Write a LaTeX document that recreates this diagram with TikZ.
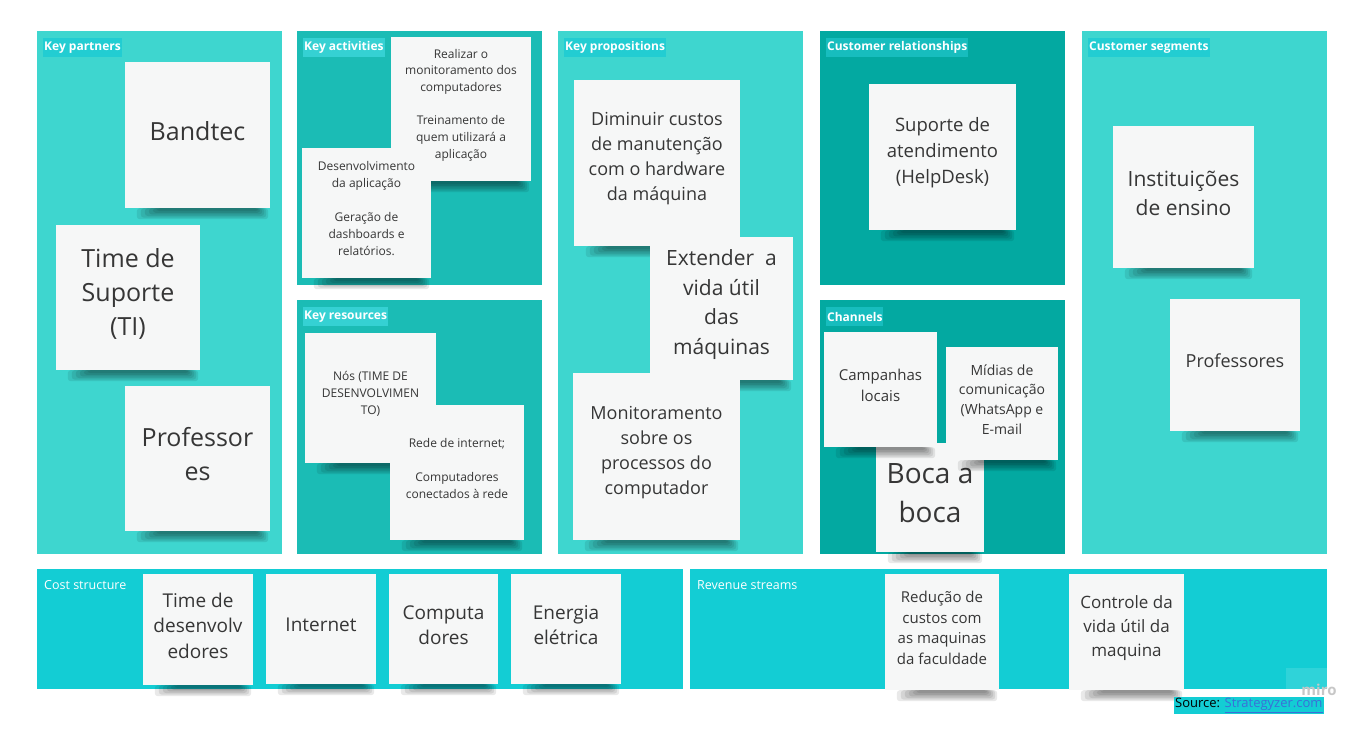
\documentclass[tikz,border=0pt]{standalone}
\usepackage{fontspec}
\setmainfont{Open Sans}
\definecolor{lt}{HTML}{3ED6CF}
\definecolor{dk}{HTML}{1BBCB5}
\definecolor{dd}{HTML}{03A9A1}
\definecolor{cy}{HTML}{13CDD4}
\definecolor{hlA}{HTML}{22CDD2}
\definecolor{hlB}{HTML}{35D1D3}
\definecolor{hlC}{HTML}{17BDBE}
\definecolor{notefill}{HTML}{F6F7F7}
\definecolor{ink}{HTML}{363636}
\definecolor{linkblue}{HTML}{3A6FD8}
\newcommand\fsz[2]{\fontsize{#1}{#2}\selectfont}
\tikzset{
  panel/.style={fill=#1, draw=none, inner sep=0pt, anchor=north west},
  hdr/.style={fill=#1, text=white, anchor=west, inner xsep=1pt, inner ysep=0pt,
    minimum height=19pt, font=\bfseries\fsz{12}{14}},
  hdrplain/.style={text=white, anchor=west, inner xsep=1pt, inner ysep=0pt,
    minimum height=19pt, font=\fsz{12.5}{14}},
  note/.style={fill=notefill, draw=none, inner sep=0pt},
  notetext/.style={inner sep=0pt, align=center, text=ink},
  shadowlayer/.style={fill=black, draw=none, opacity=0.085, rounded corners=3pt},
}
% \snote{name}{cx}{cy}{w}{h}{font size}{line skip}{text}
\newcommand\snote[8]{%
  \node[note, minimum width=#4pt, minimum height=#5pt] (#1) at (#2,#3) {};
  \foreach \i in {0,...,5}{%
    \fill[shadowlayer] ([xshift={(12+4*\i)*1pt}]#1.south west)
      rectangle ([xshift={(-2-2*\i)*1pt}, yshift={(-11+1.6*\i)*1pt}]#1.south east);
  }
  \node[notetext, font=\fsz{#6}{#7}] (#1-t) at ([yshift=4pt]#1.center) {#8};
}
\begin{document}
\begin{tikzpicture}[x=1pt,y=-1pt]
\useasboundingbox[fill=white] (0,0) rectangle (1372,728);

% panels
\node[panel=lt, minimum width=245pt, minimum height=523pt] (kp) at (37,31) {};
\node[panel=dk, minimum width=245pt, minimum height=254pt] (ka) at (297,31) {};
\node[panel=dk, minimum width=245pt, minimum height=254pt] (kr) at (297,300) {};
\node[panel=lt, minimum width=245pt, minimum height=523pt] (vp) at (558,31) {};
\node[panel=dd, minimum width=245pt, minimum height=254pt] (cr) at (820,31) {};
\node[panel=dd, minimum width=245pt, minimum height=254pt] (ch) at (820,300) {};
\node[panel=lt, minimum width=245pt, minimum height=523pt] (cs) at (1082,31) {};
\node[panel=cy, minimum width=646pt, minimum height=120pt] (cost) at (37,569) {};
\node[panel=cy, minimum width=637pt, minimum height=120pt] (rev) at (690,569) {};

% headers
\node[hdr=hlA] (kp-l) at (43,47.5) {Key partners};
\node[hdr=hlB] (ka-l) at (303,47.5) {Key activities};
\node[hdr=hlB] (kr-l) at (303,316.5) {Key resources};
\node[hdr=hlA] (vp-l) at (564,47.5) {Key propositions};
\node[hdr=hlC] (cr-l) at (826,47.5) {Customer relationships};
\node[hdr=hlC] (ch-l) at (826,316.5) {Channels};
\node[hdr=hlA] (cs-l) at (1088,47.5) {Customer segments};
\node[hdrplain] (cost-l) at (43,585.5) {Cost structure};
\node[hdrplain] (rev-l) at (696,585.5) {Revenue streams};

% key partners
\snote{bandtec}{197.5}{135}{145}{146}{25}{34}{Bandtec}
\snote{suporteti}{128}{297.5}{144}{145}{25}{34}{Time de\\Suporte\\(TI)}
\snote{profkp}{197.5}{458.5}{145}{145}{25}{34}{Professor\\es}

% key activities
\snote{realizar}{461}{109}{140}{144}{12}{16.7}{Realizar o\\monitoramento dos\\computadores\\[16.7pt]Treinamento de\\quem utilizará a\\aplicação}
\snote{desenv}{366.5}{213}{129}{130}{12}{17}{Desenvolvimento\\da aplicação\\[17pt]Geração de\\dashboards e\\relatórios.}

% key resources
\snote{nos}{370.5}{398}{131}{130}{12}{17}{Nós (TIME DE\\DESENVOLVIMEN\\TO)}
\snote{rede}{457}{472.5}{134}{135}{12}{17}{Rede de internet;\\[17pt]Computadores\\conectados à rede}

% key propositions
\snote{diminuir}{657}{163}{166}{166}{18}{25}{Diminuir custos\\de manutenção\\com o hardware\\da máquina}
\snote{extender}{721.5}{308.5}{143}{143}{21}{29.5}{Extender\ \ a\\vida útil\\das\\máquinas}
\snote{monitor}{656.5}{456.5}{167}{167}{18}{25}{Monitoramento\\sobre os\\processos do\\computador}

% customer relationships
\snote{helpdesk}{942.5}{157}{147}{146}{18.5}{26}{Suporte de\\atendimento\\(HelpDesk)}

% channels
\snote{boca}{930}{497.5}{108}{109}{28}{39}{Boca a\\boca}
\snote{campanhas}{880.5}{389.5}{113}{115}{15}{21}{Campanhas\\locais}
\snote{midias}{1002}{403.5}{112}{113}{14}{19.7}{Mídias de\\comunicação\\(WhatsApp e\\E-mail}

% customer segments
\snote{instit}{1183.5}{197}{141}{142}{21}{29}{Instituições\\de ensino}
\snote{profcs}{1235}{365}{130}{132}{18}{25}{Professores}

% cost structure
\snote{timedev}{198}{629.5}{110}{111}{19}{25.5}{Time de\\desenvolv\\edores}
\snote{internet}{321}{629}{110}{110}{19}{25.5}{Internet}
\snote{computadores}{443.5}{629}{109}{110}{19}{25}{Computa\\dores}
\snote{energia}{566}{629}{110}{110}{19}{25}{Energia\\elétrica}

% revenue streams
\snote{reducao}{942}{632}{114}{116}{15}{20.7}{Redução de\\custos com\\as maquinas\\da faculdade}
\snote{controle}{1126.5}{632}{115}{116}{17}{24}{Controle da\\vida útil da\\maquina}

% watermark and source
\node[fill=white, fill opacity=0.12, minimum width=41pt, minimum height=22pt, inner sep=0pt, anchor=north west] (wm-box) at (1286,668) {};
\node[text=black!22, font=\bfseries\fsz{15}{17}, inner sep=0pt] (wm) at (1319,690) {miro};
\node[fill=cy, anchor=west, inner xsep=1pt, inner ysep=0pt, minimum height=17pt, font=\fsz{13}{15}] (source) at (1174,705.5)
  {\textcolor{black}{Source:} \textcolor{linkblue}{\underline{Strategyzer.com}}};
\end{tikzpicture}
\end{document}
